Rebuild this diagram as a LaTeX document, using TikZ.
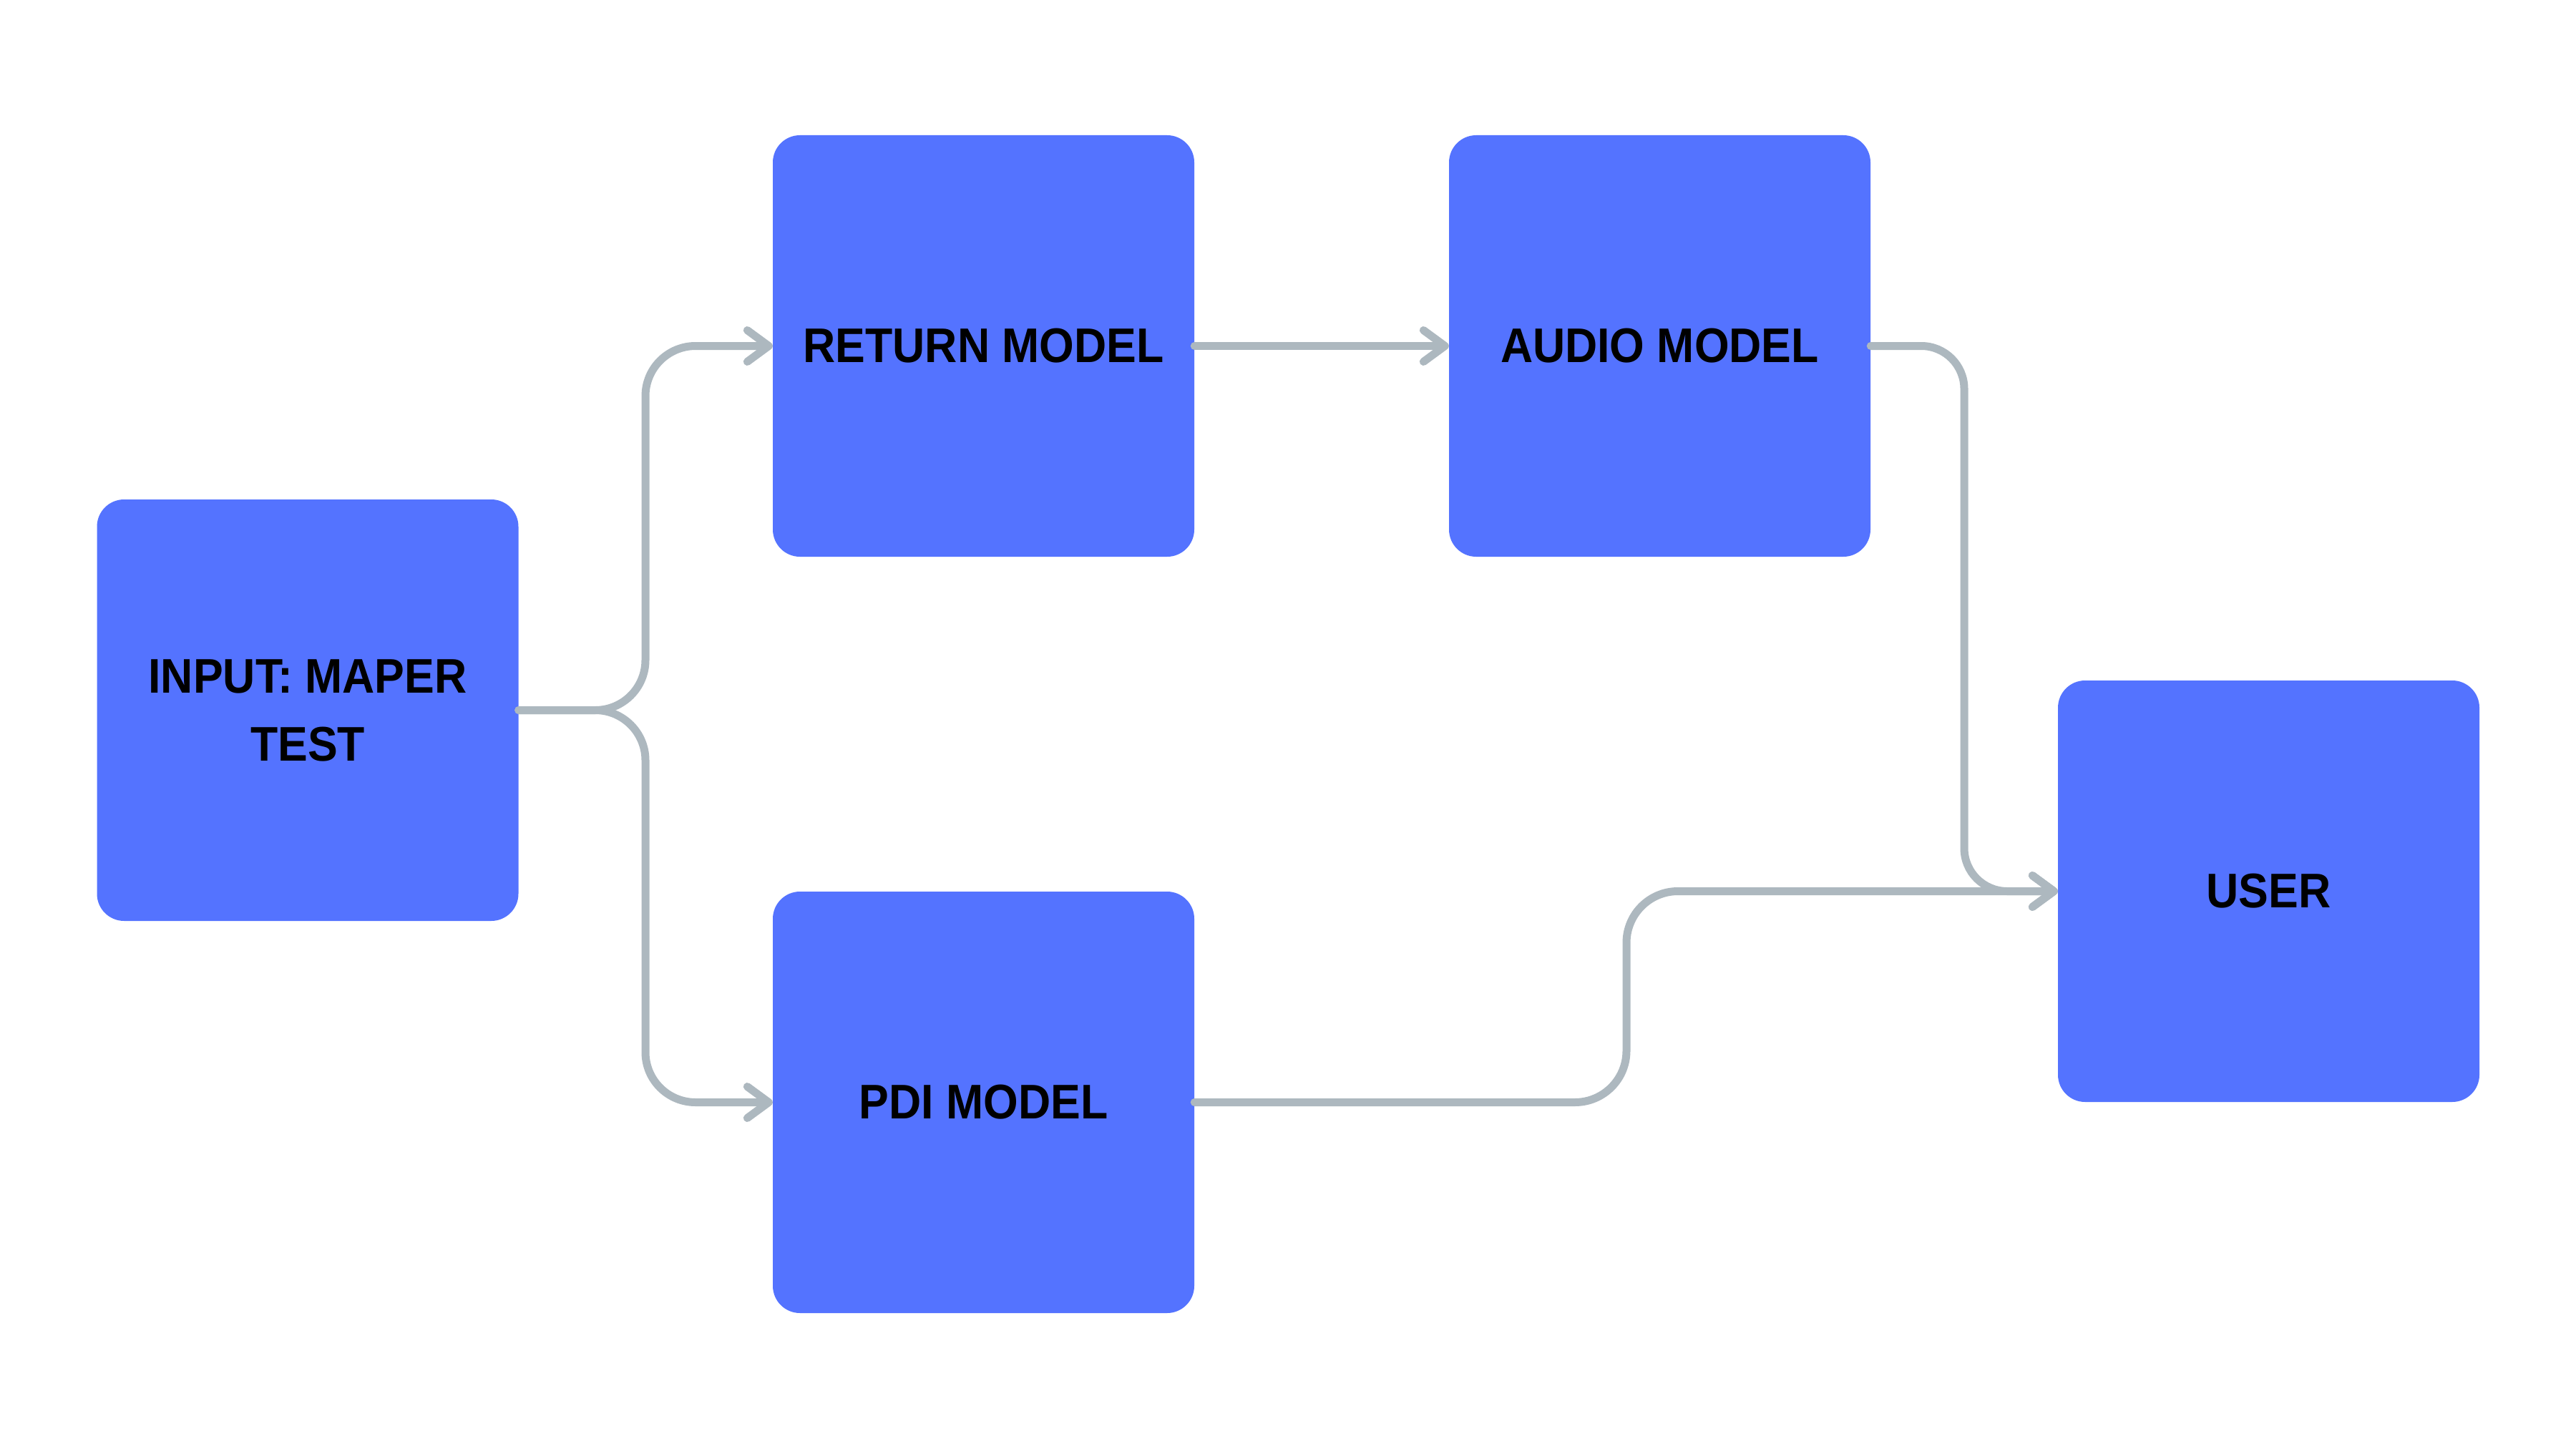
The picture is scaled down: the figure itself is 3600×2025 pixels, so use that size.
\documentclass[tikz,border=0pt]{standalone}
\usepackage{fontspec}
\newfontfamily\lbl{Liberation Sans}[FakeStretch=0.92]
\usetikzlibrary{arrows.meta}
\definecolor{boxblue}{HTML}{5473FF}
\definecolor{linegray}{HTML}{ADB8BF}
\begin{document}
\begin{tikzpicture}[x=1pt,y=-1pt,
  box/.style={rectangle, rounded corners=38pt, fill=boxblue, minimum width=589pt, minimum height=589pt, inner sep=0pt, align=center, font=\lbl\bfseries\fontsize{68}{95}\selectfont, text=black},
  conn/.style={draw=linegray, line width=11pt, line cap=round, line join=round, -{Straight Barb[length=30pt,width=44pt,round]}}]
\fill[white] (0,0) rectangle (3600,2025);
\useasboundingbox (0,0) rectangle (3600,2025);

\node[box] (inp) at (430,992.5) {INPUT: MAPER\\TEST};
\node[box] (ret) at (1374.5,483.5) {RETURN MODEL};
\node[box] (aud) at (2319.5,483.5) {AUDIO MODEL};
\node[box] (pdi) at (1374.5,1540.5) {PDI MODEL};
\node[box] (usr) at (3170.5,1245.5) {USER};

\coordinate (forkx) at (902,0);
\coordinate (jog) at (2273,0);
\coordinate (drop) at (2745,0);

\draw[conn, rounded corners=70pt] (inp.east) -| (forkx |- ret.west) -- (ret.west);
\draw[conn, rounded corners=70pt] (inp.east) -| (forkx |- pdi.west) -- (pdi.west);
\draw[conn] (ret.east) -- (aud.west);
\draw[conn, rounded corners=72pt] (pdi.east) -| (jog |- usr.west) -- (usr.west);
\draw[conn, rounded corners=60pt] (aud.east) -| (drop |- usr.west) -- (usr.west);
\end{tikzpicture}
\end{document}
